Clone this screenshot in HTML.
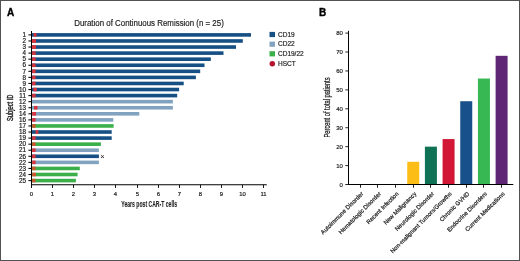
<!DOCTYPE html><html><head><meta charset="utf-8"><style>html,body{margin:0;padding:0;background:#fff}svg{display:block;will-change:transform}text{font-family:"Liberation Sans",sans-serif}</style></head><body>
<svg width="520" height="261" viewBox="0 0 520 261">
<rect x="0" y="0" width="520" height="261" fill="#fff"/>
<rect x="0.5" y="0.5" width="519" height="260" fill="none" stroke="#525252" stroke-width="1"/>
<text x="7.0" y="15.6" font-size="10.0" font-weight="bold" fill="#000" stroke="#000" stroke-width="0.35">A</text>
<text x="319.0" y="15.6" font-size="10.0" font-weight="bold" fill="#000" stroke="#000" stroke-width="0.35">B</text>
<text x="74.2" y="25.9" font-size="8.3" fill="#1e1e1e" stroke="#1e1e1e" stroke-width="0.18" textLength="149.6" lengthAdjust="spacingAndGlyphs">Duration of Continuous Remission (n = 25)</text>
<rect x="32" y="33.10" width="219.00" height="3.60" fill="#154f84"/>
<rect x="33.60" y="33.10" width="2.90" height="3.60" fill="#d9343c"/>
<line x1="28.4" y1="34.90" x2="31.50" y2="34.90" stroke="#111" stroke-width="1.1"/>
<text x="25.9" y="37.10" font-size="6.3" fill="#222" stroke="#222" stroke-width="0.2" text-anchor="end">1</text>
<rect x="32" y="39.17" width="210.80" height="3.60" fill="#154f84"/>
<rect x="32.00" y="39.17" width="4.00" height="3.60" fill="#d9343c"/>
<line x1="28.4" y1="40.97" x2="31.50" y2="40.97" stroke="#111" stroke-width="1.1"/>
<text x="25.9" y="43.17" font-size="6.3" fill="#222" stroke="#222" stroke-width="0.2" text-anchor="end">2</text>
<rect x="32" y="45.24" width="204.00" height="3.60" fill="#154f84"/>
<rect x="32.00" y="45.24" width="4.00" height="3.60" fill="#d9343c"/>
<line x1="28.4" y1="47.04" x2="31.50" y2="47.04" stroke="#111" stroke-width="1.1"/>
<text x="25.9" y="49.24" font-size="6.3" fill="#222" stroke="#222" stroke-width="0.2" text-anchor="end">3</text>
<rect x="32" y="51.31" width="191.50" height="3.60" fill="#154f84"/>
<rect x="32.20" y="51.31" width="3.40" height="3.60" fill="#d9343c"/>
<line x1="28.4" y1="53.11" x2="31.50" y2="53.11" stroke="#111" stroke-width="1.1"/>
<text x="25.9" y="55.31" font-size="6.3" fill="#222" stroke="#222" stroke-width="0.2" text-anchor="end">4</text>
<rect x="32" y="57.38" width="178.80" height="3.60" fill="#154f84"/>
<rect x="32.20" y="57.38" width="3.40" height="3.60" fill="#d9343c"/>
<line x1="28.4" y1="59.18" x2="31.50" y2="59.18" stroke="#111" stroke-width="1.1"/>
<text x="25.9" y="61.38" font-size="6.3" fill="#222" stroke="#222" stroke-width="0.2" text-anchor="end">5</text>
<rect x="32" y="63.45" width="172.50" height="3.60" fill="#154f84"/>
<rect x="32.20" y="63.45" width="3.40" height="3.60" fill="#d9343c"/>
<line x1="28.4" y1="65.25" x2="31.50" y2="65.25" stroke="#111" stroke-width="1.1"/>
<text x="25.9" y="67.45" font-size="6.3" fill="#222" stroke="#222" stroke-width="0.2" text-anchor="end">6</text>
<rect x="32" y="69.52" width="168.20" height="3.60" fill="#154f84"/>
<rect x="32.20" y="69.52" width="3.40" height="3.60" fill="#d9343c"/>
<line x1="28.4" y1="71.32" x2="31.50" y2="71.32" stroke="#111" stroke-width="1.1"/>
<text x="25.9" y="73.52" font-size="6.3" fill="#222" stroke="#222" stroke-width="0.2" text-anchor="end">7</text>
<rect x="32" y="75.59" width="163.90" height="3.60" fill="#154f84"/>
<rect x="32.20" y="75.59" width="3.40" height="3.60" fill="#d9343c"/>
<line x1="28.4" y1="77.39" x2="31.50" y2="77.39" stroke="#111" stroke-width="1.1"/>
<text x="25.9" y="79.59" font-size="6.3" fill="#222" stroke="#222" stroke-width="0.2" text-anchor="end">8</text>
<rect x="32" y="81.66" width="151.70" height="3.60" fill="#154f84"/>
<rect x="32.20" y="81.66" width="3.40" height="3.60" fill="#d9343c"/>
<line x1="28.4" y1="83.46" x2="31.50" y2="83.46" stroke="#111" stroke-width="1.1"/>
<text x="25.9" y="85.66" font-size="6.3" fill="#222" stroke="#222" stroke-width="0.2" text-anchor="end">9</text>
<rect x="32" y="87.73" width="147.10" height="3.60" fill="#154f84"/>
<rect x="33.30" y="87.73" width="3.50" height="3.60" fill="#d9343c"/>
<line x1="28.4" y1="89.53" x2="31.50" y2="89.53" stroke="#111" stroke-width="1.1"/>
<text x="25.9" y="91.73" font-size="6.3" fill="#222" stroke="#222" stroke-width="0.2" text-anchor="end">10</text>
<rect x="32" y="93.80" width="145.20" height="3.60" fill="#154f84"/>
<rect x="32.20" y="93.80" width="3.40" height="3.60" fill="#d9343c"/>
<line x1="28.4" y1="95.60" x2="31.50" y2="95.60" stroke="#111" stroke-width="1.1"/>
<text x="25.9" y="97.80" font-size="6.3" fill="#222" stroke="#222" stroke-width="0.2" text-anchor="end">11</text>
<rect x="32" y="99.87" width="140.90" height="3.60" fill="#82a3c0"/>
<line x1="28.4" y1="101.67" x2="31.50" y2="101.67" stroke="#111" stroke-width="1.1"/>
<text x="25.9" y="103.87" font-size="6.3" fill="#222" stroke="#222" stroke-width="0.2" text-anchor="end">12</text>
<rect x="32" y="105.94" width="140.90" height="3.60" fill="#82a3c0"/>
<rect x="34.10" y="105.94" width="3.40" height="3.60" fill="#d9343c"/>
<line x1="28.4" y1="107.74" x2="31.50" y2="107.74" stroke="#111" stroke-width="1.1"/>
<text x="25.9" y="109.94" font-size="6.3" fill="#222" stroke="#222" stroke-width="0.2" text-anchor="end">13</text>
<rect x="32" y="112.01" width="107.30" height="3.60" fill="#82a3c0"/>
<rect x="32.20" y="112.01" width="3.80" height="3.60" fill="#d9343c"/>
<line x1="28.4" y1="113.81" x2="31.50" y2="113.81" stroke="#111" stroke-width="1.1"/>
<text x="25.9" y="116.01" font-size="6.3" fill="#222" stroke="#222" stroke-width="0.2" text-anchor="end">14</text>
<rect x="32" y="118.08" width="81.30" height="3.60" fill="#82a3c0"/>
<rect x="32.20" y="118.08" width="3.40" height="3.60" fill="#d9343c"/>
<line x1="28.4" y1="119.88" x2="31.50" y2="119.88" stroke="#111" stroke-width="1.1"/>
<text x="25.9" y="122.08" font-size="6.3" fill="#222" stroke="#222" stroke-width="0.2" text-anchor="end">16</text>
<rect x="32" y="124.15" width="81.60" height="3.60" fill="#3bb04a"/>
<rect x="32.20" y="124.15" width="3.40" height="3.60" fill="#d0562f"/>
<line x1="28.4" y1="125.95" x2="31.50" y2="125.95" stroke="#111" stroke-width="1.1"/>
<text x="25.9" y="128.15" font-size="6.3" fill="#222" stroke="#222" stroke-width="0.2" text-anchor="end">17</text>
<rect x="32" y="130.22" width="79.70" height="3.60" fill="#154f84"/>
<rect x="35.60" y="130.22" width="2.70" height="3.60" fill="#d9343c"/>
<line x1="28.4" y1="132.02" x2="31.50" y2="132.02" stroke="#111" stroke-width="1.1"/>
<text x="25.9" y="134.22" font-size="6.3" fill="#222" stroke="#222" stroke-width="0.2" text-anchor="end">18</text>
<rect x="32" y="136.29" width="79.70" height="3.60" fill="#154f84"/>
<rect x="32.20" y="136.29" width="3.40" height="3.60" fill="#d9343c"/>
<line x1="28.4" y1="138.09" x2="31.50" y2="138.09" stroke="#111" stroke-width="1.1"/>
<text x="25.9" y="140.29" font-size="6.3" fill="#222" stroke="#222" stroke-width="0.2" text-anchor="end">19</text>
<rect x="32" y="142.36" width="68.90" height="3.60" fill="#3bb04a"/>
<rect x="32.20" y="142.36" width="3.40" height="3.60" fill="#d0562f"/>
<line x1="28.4" y1="144.16" x2="31.50" y2="144.16" stroke="#111" stroke-width="1.1"/>
<text x="25.9" y="146.36" font-size="6.3" fill="#222" stroke="#222" stroke-width="0.2" text-anchor="end">20</text>
<rect x="32" y="148.43" width="66.90" height="3.60" fill="#82a3c0"/>
<rect x="32.20" y="148.43" width="3.40" height="3.60" fill="#d9343c"/>
<line x1="28.4" y1="150.23" x2="31.50" y2="150.23" stroke="#111" stroke-width="1.1"/>
<text x="25.9" y="152.43" font-size="6.3" fill="#222" stroke="#222" stroke-width="0.2" text-anchor="end">21</text>
<rect x="32" y="154.50" width="66.90" height="3.60" fill="#154f84"/>
<rect x="32.20" y="154.50" width="3.40" height="3.60" fill="#d9343c"/>
<line x1="28.4" y1="156.30" x2="31.50" y2="156.30" stroke="#111" stroke-width="1.1"/>
<text x="25.9" y="158.50" font-size="6.3" fill="#222" stroke="#222" stroke-width="0.2" text-anchor="end">26</text>
<rect x="32" y="160.57" width="66.90" height="3.60" fill="#82a3c0"/>
<rect x="32.20" y="160.57" width="3.40" height="3.60" fill="#d9343c"/>
<line x1="28.4" y1="162.37" x2="31.50" y2="162.37" stroke="#111" stroke-width="1.1"/>
<text x="25.9" y="164.57" font-size="6.3" fill="#222" stroke="#222" stroke-width="0.2" text-anchor="end">22</text>
<rect x="32" y="166.64" width="47.80" height="3.60" fill="#3bb04a"/>
<rect x="32.20" y="166.64" width="3.40" height="3.60" fill="#d0562f"/>
<line x1="28.4" y1="168.44" x2="31.50" y2="168.44" stroke="#111" stroke-width="1.1"/>
<text x="25.9" y="170.64" font-size="6.3" fill="#222" stroke="#222" stroke-width="0.2" text-anchor="end">23</text>
<rect x="32" y="172.71" width="45.60" height="3.60" fill="#3bb04a"/>
<rect x="32.20" y="172.71" width="3.80" height="3.60" fill="#d0562f"/>
<line x1="28.4" y1="174.51" x2="31.50" y2="174.51" stroke="#111" stroke-width="1.1"/>
<text x="25.9" y="176.71" font-size="6.3" fill="#222" stroke="#222" stroke-width="0.2" text-anchor="end">24</text>
<rect x="32" y="178.78" width="43.90" height="3.60" fill="#3bb04a"/>
<rect x="32.20" y="178.78" width="3.20" height="3.60" fill="#d0562f"/>
<line x1="28.4" y1="180.58" x2="31.50" y2="180.58" stroke="#111" stroke-width="1.1"/>
<text x="25.9" y="182.78" font-size="6.3" fill="#222" stroke="#222" stroke-width="0.2" text-anchor="end">25</text>
<text x="102.5" y="159.2" font-size="7.5" fill="#111" text-anchor="middle">×</text>
<line x1="31.5" y1="31" x2="31.5" y2="188" stroke="#000" stroke-width="1"/>
<line x1="31" y1="184.7" x2="266.8" y2="184.7" stroke="#000" stroke-width="1.15"/>
<line x1="31.50" y1="184.7" x2="31.50" y2="188" stroke="#111" stroke-width="0.95"/>
<text x="31.50" y="195.8" font-size="5.9" fill="#222" stroke="#222" stroke-width="0.2" text-anchor="middle">0</text>
<line x1="52.50" y1="184.7" x2="52.50" y2="188" stroke="#111" stroke-width="0.95"/>
<text x="52.50" y="195.8" font-size="5.9" fill="#222" stroke="#222" stroke-width="0.2" text-anchor="middle">1</text>
<line x1="73.50" y1="184.7" x2="73.50" y2="188" stroke="#111" stroke-width="0.95"/>
<text x="73.50" y="195.8" font-size="5.9" fill="#222" stroke="#222" stroke-width="0.2" text-anchor="middle">2</text>
<line x1="94.50" y1="184.7" x2="94.50" y2="188" stroke="#111" stroke-width="0.95"/>
<text x="94.50" y="195.8" font-size="5.9" fill="#222" stroke="#222" stroke-width="0.2" text-anchor="middle">3</text>
<line x1="115.50" y1="184.7" x2="115.50" y2="188" stroke="#111" stroke-width="0.95"/>
<text x="115.50" y="195.8" font-size="5.9" fill="#222" stroke="#222" stroke-width="0.2" text-anchor="middle">4</text>
<line x1="137.50" y1="184.7" x2="137.50" y2="188" stroke="#111" stroke-width="0.95"/>
<text x="137.50" y="195.8" font-size="5.9" fill="#222" stroke="#222" stroke-width="0.2" text-anchor="middle">5</text>
<line x1="158.50" y1="184.7" x2="158.50" y2="188" stroke="#111" stroke-width="0.95"/>
<text x="158.50" y="195.8" font-size="5.9" fill="#222" stroke="#222" stroke-width="0.2" text-anchor="middle">6</text>
<line x1="179.50" y1="184.7" x2="179.50" y2="188" stroke="#111" stroke-width="0.95"/>
<text x="179.50" y="195.8" font-size="5.9" fill="#222" stroke="#222" stroke-width="0.2" text-anchor="middle">7</text>
<line x1="200.50" y1="184.7" x2="200.50" y2="188" stroke="#111" stroke-width="0.95"/>
<text x="200.50" y="195.8" font-size="5.9" fill="#222" stroke="#222" stroke-width="0.2" text-anchor="middle">8</text>
<line x1="221.50" y1="184.7" x2="221.50" y2="188" stroke="#111" stroke-width="0.95"/>
<text x="221.50" y="195.8" font-size="5.9" fill="#222" stroke="#222" stroke-width="0.2" text-anchor="middle">9</text>
<line x1="242.50" y1="184.7" x2="242.50" y2="188" stroke="#111" stroke-width="0.95"/>
<text x="242.50" y="195.8" font-size="5.9" fill="#222" stroke="#222" stroke-width="0.2" text-anchor="middle">10</text>
<line x1="263.50" y1="184.7" x2="263.50" y2="188" stroke="#111" stroke-width="0.95"/>
<text x="263.50" y="195.8" font-size="5.9" fill="#222" stroke="#222" stroke-width="0.2" text-anchor="middle">11</text>
<text x="121.3" y="207.4" font-size="8.5" font-weight="bold" fill="#1e1e1e" stroke="#1e1e1e" stroke-width="0.1" textLength="55.8" lengthAdjust="spacingAndGlyphs">Years post CAR-T cells</text>
<text x="0" y="0" font-size="8.4" fill="#1e1e1e" stroke="#1e1e1e" stroke-width="0.4" text-anchor="middle" textLength="26.4" lengthAdjust="spacingAndGlyphs" transform="translate(13.3 107.8) rotate(-90)">Subject ID</text>
<rect x="269.5" y="31.9" width="5.5" height="5.2" fill="#154f84"/>
<text x="278" y="36.5" font-size="6.5" fill="#222" stroke="#222" stroke-width="0.18">CD19</text>
<rect x="269.5" y="41.6" width="5.5" height="5.2" fill="#82a3c0"/>
<text x="278" y="46.2" font-size="6.5" fill="#222" stroke="#222" stroke-width="0.18">CD22</text>
<rect x="269.5" y="51.2" width="5.5" height="5.2" fill="#3bb04a"/>
<text x="278" y="55.8" font-size="6.5" fill="#222" stroke="#222" stroke-width="0.18">CD19/22</text>
<circle cx="272.3" cy="63.7" r="2.75" fill="#b3142f"/>
<text x="278" y="65.7" font-size="6.5" fill="#222" stroke="#222" stroke-width="0.18">HSCT</text>
<line x1="348.5" y1="30.8" x2="348.5" y2="185.0" stroke="#000" stroke-width="1"/>
<line x1="345.3" y1="184.50" x2="348.5" y2="184.50" stroke="#111" stroke-width="0.9"/>
<text x="342.9" y="186.50" font-size="6.0" fill="#222" stroke="#222" stroke-width="0.18" text-anchor="end">0</text>
<line x1="345.3" y1="165.57" x2="348.5" y2="165.57" stroke="#111" stroke-width="0.9"/>
<text x="342.9" y="167.57" font-size="6.0" fill="#222" stroke="#222" stroke-width="0.18" text-anchor="end">10</text>
<line x1="345.3" y1="146.65" x2="348.5" y2="146.65" stroke="#111" stroke-width="0.9"/>
<text x="342.9" y="148.65" font-size="6.0" fill="#222" stroke="#222" stroke-width="0.18" text-anchor="end">20</text>
<line x1="345.3" y1="127.72" x2="348.5" y2="127.72" stroke="#111" stroke-width="0.9"/>
<text x="342.9" y="129.72" font-size="6.0" fill="#222" stroke="#222" stroke-width="0.18" text-anchor="end">30</text>
<line x1="345.3" y1="108.80" x2="348.5" y2="108.80" stroke="#111" stroke-width="0.9"/>
<text x="342.9" y="110.80" font-size="6.0" fill="#222" stroke="#222" stroke-width="0.18" text-anchor="end">40</text>
<line x1="345.3" y1="89.88" x2="348.5" y2="89.88" stroke="#111" stroke-width="0.9"/>
<text x="342.9" y="91.88" font-size="6.0" fill="#222" stroke="#222" stroke-width="0.18" text-anchor="end">50</text>
<line x1="345.3" y1="70.95" x2="348.5" y2="70.95" stroke="#111" stroke-width="0.9"/>
<text x="342.9" y="72.95" font-size="6.0" fill="#222" stroke="#222" stroke-width="0.18" text-anchor="end">60</text>
<line x1="345.3" y1="52.03" x2="348.5" y2="52.03" stroke="#111" stroke-width="0.9"/>
<text x="342.9" y="54.03" font-size="6.0" fill="#222" stroke="#222" stroke-width="0.18" text-anchor="end">70</text>
<line x1="345.3" y1="33.10" x2="348.5" y2="33.10" stroke="#111" stroke-width="0.9"/>
<text x="342.9" y="35.10" font-size="6.0" fill="#222" stroke="#222" stroke-width="0.18" text-anchor="end">80</text>
<line x1="360.50" y1="184.5" x2="360.50" y2="187.7" stroke="#111" stroke-width="0.95"/>
<text x="0" y="0" font-size="5.95" fill="#1a1a1a" stroke="#1a1a1a" stroke-width="0.2" text-anchor="end" transform="translate(363.70 194.2) rotate(-45)">Autoimmune Disorder</text>
<line x1="377.50" y1="184.5" x2="377.50" y2="187.7" stroke="#111" stroke-width="0.95"/>
<text x="0" y="0" font-size="5.95" fill="#1a1a1a" stroke="#1a1a1a" stroke-width="0.2" text-anchor="end" transform="translate(381.38 194.2) rotate(-45)">Hematologic Disorder</text>
<line x1="395.50" y1="184.5" x2="395.50" y2="187.7" stroke="#111" stroke-width="0.95"/>
<text x="0" y="0" font-size="5.95" fill="#1a1a1a" stroke="#1a1a1a" stroke-width="0.2" text-anchor="end" transform="translate(399.05 194.2) rotate(-45)">Recent Infection</text>
<rect x="407.23" y="161.79" width="12" height="22.71" fill="#fbbd16"/>
<line x1="413.50" y1="184.5" x2="413.50" y2="187.7" stroke="#111" stroke-width="0.95"/>
<text x="0" y="0" font-size="5.95" fill="#1a1a1a" stroke="#1a1a1a" stroke-width="0.2" text-anchor="end" transform="translate(416.73 194.2) rotate(-45)">New Malignancy</text>
<rect x="424.90" y="146.65" width="12" height="37.85" fill="#0f7254"/>
<line x1="430.50" y1="184.5" x2="430.50" y2="187.7" stroke="#111" stroke-width="0.95"/>
<text x="0" y="0" font-size="5.95" fill="#1a1a1a" stroke="#1a1a1a" stroke-width="0.2" text-anchor="end" transform="translate(434.40 194.2) rotate(-45)">Neurologic Disorder</text>
<rect x="442.57" y="139.08" width="12" height="45.42" fill="#d11636"/>
<line x1="448.50" y1="184.5" x2="448.50" y2="187.7" stroke="#111" stroke-width="0.95"/>
<text x="0" y="0" font-size="5.95" fill="#1a1a1a" stroke="#1a1a1a" stroke-width="0.2" text-anchor="end" transform="translate(452.07 194.2) rotate(-45)">Non-malignant Tumors/Growths</text>
<rect x="460.25" y="101.23" width="12" height="83.27" fill="#17508a"/>
<line x1="466.50" y1="184.5" x2="466.50" y2="187.7" stroke="#111" stroke-width="0.95"/>
<text x="0" y="0" font-size="5.95" fill="#1a1a1a" stroke="#1a1a1a" stroke-width="0.2" text-anchor="end" transform="translate(469.75 194.2) rotate(-45)">Chronic GVHD</text>
<rect x="477.93" y="78.52" width="12" height="105.98" fill="#38b852"/>
<line x1="483.50" y1="184.5" x2="483.50" y2="187.7" stroke="#111" stroke-width="0.95"/>
<text x="0" y="0" font-size="5.95" fill="#1a1a1a" stroke="#1a1a1a" stroke-width="0.2" text-anchor="end" transform="translate(487.43 194.2) rotate(-45)">Endocrine Disorders</text>
<rect x="495.60" y="55.81" width="12" height="128.69" fill="#5f2676"/>
<line x1="501.50" y1="184.5" x2="501.50" y2="187.7" stroke="#111" stroke-width="0.95"/>
<text x="0" y="0" font-size="5.95" fill="#1a1a1a" stroke="#1a1a1a" stroke-width="0.2" text-anchor="end" transform="translate(505.10 194.2) rotate(-45)">Current Medications</text>
<line x1="348.0" y1="184.5" x2="513.3" y2="184.5" stroke="#000" stroke-width="1.1"/>
<text x="0" y="0" font-size="8.4" fill="#222" stroke="#222" stroke-width="0.25" text-anchor="middle" textLength="60" lengthAdjust="spacingAndGlyphs" transform="translate(330.3 107.5) rotate(-90)">Percent of total patients</text>
</svg></body></html>
